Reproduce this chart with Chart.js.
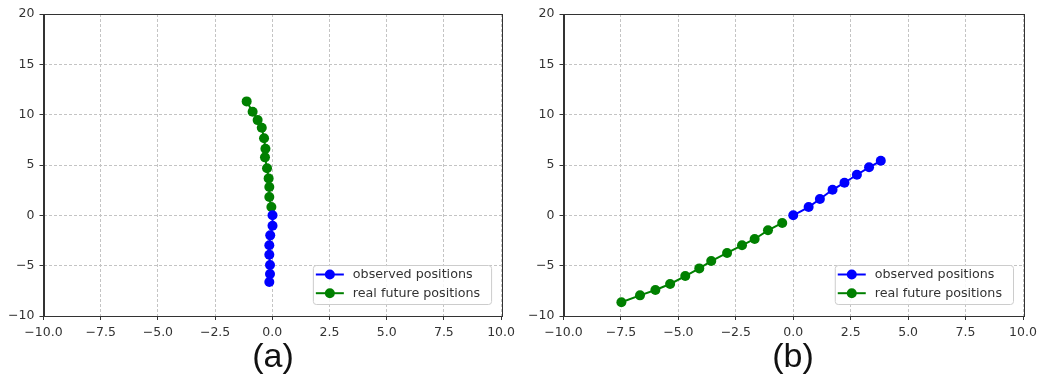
<!DOCTYPE html>
<html>
<head>
<meta charset="utf-8">
<script src="https://cdn.jsdelivr.net/npm/chart.js@4.4.1/dist/chart.umd.min.js"></script>
<style>
  html, body { margin: 0; padding: 0; background: #fff; }
  body { width: 1043px; height: 380px; position: relative; overflow: hidden; }
  .panel { position: absolute; top: 0; height: 380px; }
  .cap { position: absolute; top: 334px; width: 120px; text-align: center;
         font-family: "Liberation Sans", Arial, sans-serif; font-size: 34px;
         line-height: 42px; color: #111; }
</style>
</head>
<body>
<div class="panel" style="left:0;width:520px"><canvas id="chartA" width="520" height="380"></canvas></div>
<div class="panel" style="left:520px;width:523px"><canvas id="chartB" width="523" height="380"></canvas></div>
<div class="cap" style="left:213px">(a)</div>
<div class="cap" style="left:733px">(b)</div>
<script>
// Trajectory (a): observed track and ground-truth future track
const obsAX = [-0.13, -0.10, -0.10, -0.13, -0.13, -0.09, 0.01, 0.01];
const obsAY = [-6.62, -5.83, -4.94, -3.91, -2.98, -1.99, -1.03, 0.00];
const futAX = [-0.04, -0.13, -0.13, -0.16, -0.23, -0.32, -0.30, -0.36, -0.46, -0.64, -0.86, -1.12];
const futAY = [0.82, 1.82, 2.81, 3.67, 4.67, 5.76, 6.62, 7.65, 8.70, 9.46, 10.29, 11.32];

// Trajectory (b)
const obsBX = [3.81, 3.30, 2.77, 2.23, 1.71, 1.16, 0.67, 0.00];
const obsBY = [5.42, 4.77, 4.03, 3.24, 2.54, 1.62, 0.82, 0.00];
const futBX = [-0.48, -1.10, -1.68, -2.23, -2.88, -3.57, -4.09, -4.70, -5.36, -6.00, -6.67, -7.48];
const futBY = [-0.76, -1.49, -2.35, -2.98, -3.74, -4.54, -5.27, -6.03, -6.82, -7.42, -7.95, -8.64];

const seriesLabels = ['observed positions', 'real future positions'];
const seriesColors = ['#0000ff', '#008000'];

// Axis ranges and tick spacing
const xMin = -10, xMax = 10, xStep = 2.5;
const yMin = -10, yMax = 20, yStep = 5;

const FONT = '"DejaVu Sans", sans-serif';
Chart.defaults.font.family = FONT;

const minus = s => s.replace('-', '\u2212');

const pts = (xs, ys) => xs.map((x, i) => ({ x, y: ys[i] }));

function dataset(i, xs, ys) {
  return {
    label: seriesLabels[i],
    data: pts(xs, ys),
    showLine: true,
    borderColor: seriesColors[i],
    backgroundColor: seriesColors[i],
    borderWidth: 2,
    pointRadius: 5,
    pointHoverRadius: 5,
    pointBorderWidth: 0,
    tension: 0
  };
}

// Legend drawn inside the lower-right corner of the plot area
const insetLegend = {
  id: 'insetLegend',
  afterDraw(chart) {
    const { ctx, chartArea: a } = chart;
    const ds = chart.data.datasets;
    ctx.save();
    ctx.font = '12.7px ' + FONT;
    const tw = Math.max(...ds.map(d => ctx.measureText(d.label).width));
    const w = 40 + tw + 11, h = 39;
    const x = a.right - 10 - w, y = a.bottom - 12 - h;
    ctx.beginPath();
    if (ctx.roundRect) ctx.roundRect(x + 0.5, y + 0.5, w, h, 3);
    else ctx.rect(x + 0.5, y + 0.5, w, h);
    ctx.fillStyle = 'rgba(255,255,255,0.85)';
    ctx.fill();
    ctx.strokeStyle = '#cccccc';
    ctx.lineWidth = 1;
    ctx.stroke();
    ds.forEach((d, i) => {
      const cy = y + 9.5 + i * 18.7;
      ctx.strokeStyle = d.borderColor;
      ctx.lineWidth = 2;
      ctx.beginPath();
      ctx.moveTo(x + 3, cy);
      ctx.lineTo(x + 31, cy);
      ctx.stroke();
      ctx.fillStyle = d.backgroundColor;
      ctx.beginPath();
      ctx.arc(x + 17, cy, 5, 0, Math.PI * 2);
      ctx.fill();
      ctx.fillStyle = '#333';
      ctx.textBaseline = 'middle';
      ctx.textAlign = 'left';
      ctx.fillText(d.label, x + 40, cy + 0.5);
    });
    ctx.restore();
  }
};

// Full box around the plot area
const frame = {
  id: 'frame',
  afterDatasetsDraw(chart) {
    const { ctx, chartArea: a } = chart;
    ctx.save();
    ctx.strokeStyle = '#333';
    ctx.lineWidth = 1;
    ctx.strokeRect(Math.round(a.left) + 0.5, Math.round(a.top) + 0.5,
                   Math.round(a.right - a.left), Math.round(a.bottom - a.top));
    ctx.restore();
  }
};

function makeChart(id, oX, oY, fX, fY, padRight) {
  return new Chart(document.getElementById(id), {
    type: 'scatter',
    data: { datasets: [dataset(0, oX, oY), dataset(1, fX, fY)] },
    options: {
      responsive: false,
      animation: false,
      layout: { padding: { top: 14, right: padRight, bottom: 0, left: 0 } },
      plugins: { legend: { display: false }, tooltip: { enabled: false } },
      scales: {
        x: {
          type: 'linear', min: xMin, max: xMax,
          afterFit: s => { s.height = 64; },
          ticks: {
            stepSize: xStep, maxRotation: 0, autoSkip: false, padding: 5,
            color: '#333', font: { size: 12.5, family: FONT },
            callback: v => minus(v.toFixed(1))
          },
          grid: { color: '#c4c4c4', lineWidth: 1, drawTicks: true, tickLength: 4,
                  tickColor: '#333', tickWidth: 1, tickBorderDash: [] },
          border: { display: true, color: '#333', width: 1, dash: [3, 2] }
        },
        y: {
          type: 'linear', min: yMin, max: yMax,
          afterFit: s => { s.width = 43.5; },
          ticks: {
            stepSize: yStep, padding: 5,
            color: '#333', font: { size: 12.5, family: FONT },
            callback: v => minus(String(v))
          },
          grid: { color: '#c4c4c4', lineWidth: 1, drawTicks: true, tickLength: 4,
                  tickColor: '#333', tickWidth: 1, tickBorderDash: [] },
          border: { display: true, color: '#333', width: 1, dash: [3, 2] }
        }
      }
    },
    plugins: [frame, insetLegend]
  });
}

makeChart('chartA', obsAX, obsAY, futAX, futAY, 17);
makeChart('chartB', obsBX, obsBY, futBX, futBY, 20);
</script>
</body>
</html>
